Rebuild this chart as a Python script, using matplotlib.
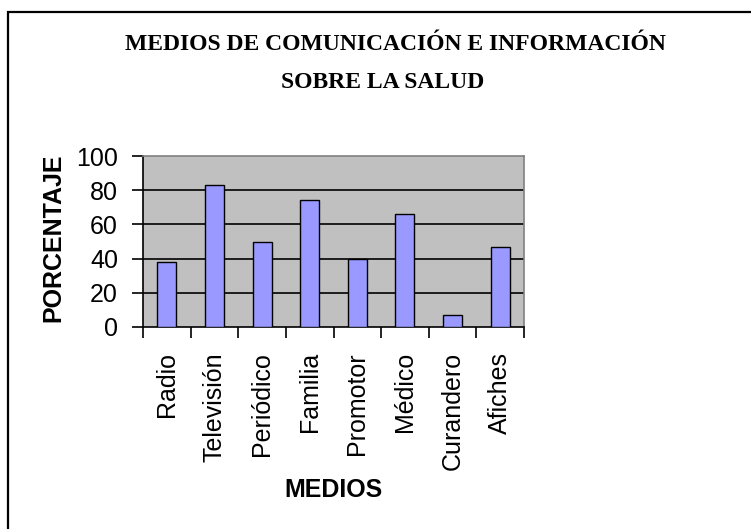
import numpy as np
import matplotlib
matplotlib.use("Agg")
import matplotlib.pyplot as plt
from matplotlib.patches import Rectangle

# data
categories = ["Radio", "Televisión", "Periódico", "Familia",
              "Promotor", "Médico", "Curandero", "Afiches"]
percentages = [38, 83, 50, 74, 40, 66, 7, 47]
y_ticks = [0, 20, 40, 60, 80, 100]

W, H = 751, 529
plt.rcParams["font.family"] = ["Liberation Sans", "DejaVu Sans"]

fig = plt.figure(figsize=(W / 100, H / 100), dpi=100)
fig.patch.set_facecolor("white")

# outer chart frame (only top/left edges fall inside the picture)
fig.patches.append(Rectangle((8 / W, 1 - 800 / H), 800 / W, 788 / H,
                             transform=fig.transFigure, fill=False,
                             edgecolor="black", linewidth=1.6))


def px_axes(x0, y0, x1, y1):
    # pixel box (top-left origin) -> figure fraction axes
    return fig.add_axes([x0 / W, 1 - y1 / H, (x1 - x0) / W, (y1 - y0) / H])


ax = px_axes(143, 156, 524, 327)
ax.set_facecolor("#C0C0C0")

x = np.arange(len(categories))
ax.bar(x, percentages, width=0.4, color="#9999FF",
       edgecolor="black", linewidth=1.0, zorder=3)

ax.set_xlim(-0.5, len(categories) - 0.5)
ax.set_ylim(0, 100)
ax.set_yticks(y_ticks)
ax.set_yticklabels([str(v) for v in y_ticks], fontsize=18)
for v in y_ticks[1:-1]:
    ax.axhline(v, color="black", linewidth=1.2, zorder=1)

# category ticks sit on the boundaries, labels in the middle
ax.set_xticks(np.arange(len(categories) + 1) - 0.5)
ax.set_xticklabels([])
ax.set_xticks(x, minor=True)
ax.set_xticklabels(categories, minor=True, rotation=90, fontsize=18,
                   va="top", ha="center")
ax.tick_params(axis="x", which="minor", length=0, pad=18)
ax.tick_params(axis="x", which="major", length=8, width=1.2, direction="out")
ax.tick_params(axis="y", length=8, width=1.2, direction="out", pad=10)

for side in ["top", "right"]:
    ax.spines[side].set_color("#808080")
    ax.spines[side].set_linewidth(1.2)
for side in ["left", "bottom"]:
    ax.spines[side].set_color("black")
    ax.spines[side].set_linewidth(1.2)

fig.text(53 / W, 1 - 238 / H, "PORCENTAJE", rotation=90, fontsize=18,
         fontweight="bold", ha="center", va="center")
fig.text(333 / W, 1 - 490 / H, "MEDIOS", fontsize=18, fontweight="bold",
         ha="center", va="center")

title_font = dict(family=["Liberation Serif", "DejaVu Serif"],
                  fontsize=17, fontweight="bold", ha="center", va="center")
fig.text(395 / W, 1 - 45 / H, "MEDIOS DE COMUNICACIÓN E INFORMACIÓN",
         **title_font)
fig.text(383 / W, 1 - 82 / H, "SOBRE LA SALUD", **title_font)

fig.savefig("out.png", dpi=100)
